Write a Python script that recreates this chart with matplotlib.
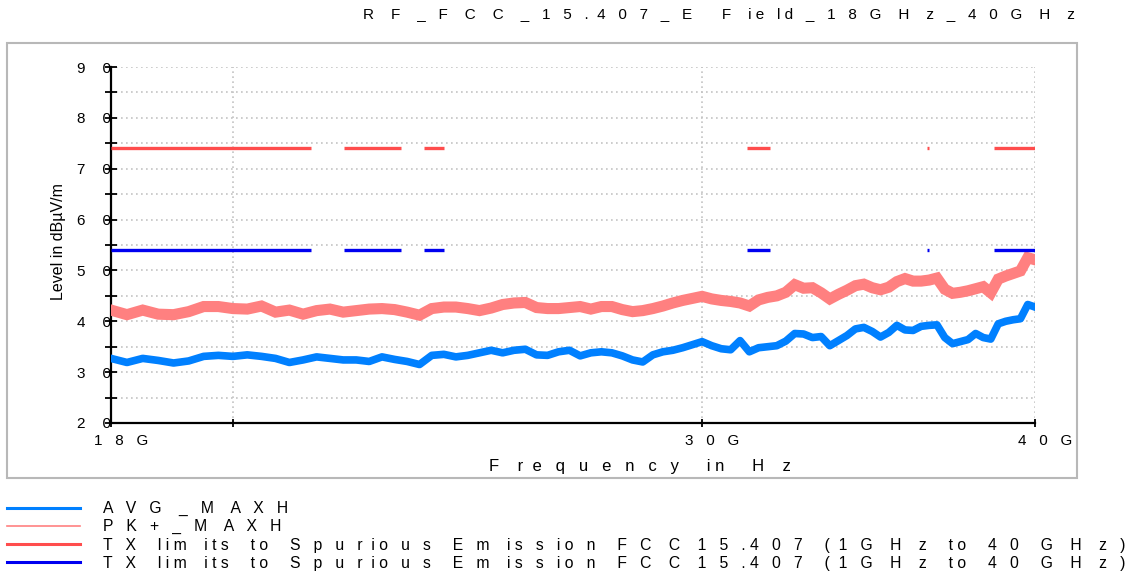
import numpy as np
import matplotlib
matplotlib.use("Agg")
import matplotlib.pyplot as plt
from matplotlib.lines import Line2D
from matplotlib.patches import Rectangle
from matplotlib.transforms import ScaledTranslation

plt.rcParams['font.family'] = ['Liberation Sans', 'DejaVu Sans']

# ---------------- data ----------------
title_text = "RF_FCC_15.407_E Field_18GHz_40GHz"
xlabel_text = "Frequency in Hz"
ylabel_text = "Level in dB\u00b5V/m"
series_labels = ["AVG_MAXH", "PK+_MAXH",
                 "TX limits to Spurious Emission FCC15.407 (1GHz to 40 GHz)",
                 "TX limits to Spurious Emission FCC15.407 (1GHz to 40 GHz)"]

freq_ghz = [18.00, 18.25, 18.50, 18.75, 19.00, 19.25, 19.50, 19.75, 20.00, 20.25,
            20.50, 20.75, 21.00, 21.25, 21.50, 21.75, 22.00, 22.25, 22.50, 22.75,
            23.00, 23.25, 23.50, 23.75, 24.00, 24.25, 24.50, 24.75, 25.00, 25.25,
            25.50, 25.75, 26.00, 26.25, 26.50, 26.75, 27.00, 27.25, 27.50, 27.75,
            28.00, 28.25, 28.50, 28.75, 29.00, 29.25, 29.50, 29.75, 30.00, 30.25,
            30.50, 30.75, 31.00, 31.25, 31.50, 31.75, 32.00, 32.25, 32.50, 32.75,
            33.00, 33.25, 33.50, 33.75, 34.00, 34.25, 34.50, 34.75, 35.00, 35.25,
            35.50, 35.75, 36.00, 36.25, 36.50, 36.75, 37.00, 37.25, 37.50, 37.75,
            38.00, 38.25, 38.50, 38.75, 39.00, 39.25, 39.50, 39.75, 40.00]

avg_dbuv = [32.7, 31.9, 32.7, 32.3, 31.8, 32.2, 33.1, 33.3, 33.1, 33.4,
            33.1, 32.7, 31.9, 32.4, 33.0, 32.7, 32.4, 32.4, 32.1, 33.0,
            32.5, 32.1, 31.5, 33.3, 33.5, 33.0, 33.3, 33.8, 34.3, 33.8,
            34.3, 34.5, 33.4, 33.3, 34.0, 34.3, 33.2, 33.8, 34.0, 33.8,
            33.2, 32.4, 32.0, 33.4, 34.0, 34.3, 34.8, 35.4, 36.0, 35.2,
            34.6, 34.4, 36.2, 34.0, 34.8, 35.0, 35.2, 36.1, 37.6, 37.5,
            36.8, 37.0, 35.2, 36.2, 37.2, 38.5, 38.8, 38.0, 36.9, 37.8,
            39.2, 38.3, 38.2, 39.0, 39.2, 39.3, 36.8, 35.6, 36.0, 36.4,
            37.6, 36.8, 36.5, 39.5, 40.0, 40.3, 40.5, 43.3, 42.8]

pk_dbuv = [42.2, 41.3, 42.2, 41.4, 41.3, 41.9, 42.9, 42.9, 42.5, 42.4,
           43.0, 41.8, 42.2, 41.4, 42.1, 42.4, 41.8, 42.1, 42.4, 42.5,
           42.3, 41.8, 41.2, 42.5, 42.8, 42.8, 42.5, 42.1, 42.6, 43.3,
           43.6, 43.7, 42.7, 42.5, 42.5, 42.7, 42.9, 42.4, 42.9, 42.9,
           42.3, 41.9, 42.1, 42.5, 43.0, 43.6, 44.1, 44.5, 44.9, 44.4,
           44.1, 43.9, 43.6, 43.0, 44.2, 44.7, 45.0, 45.7, 47.2, 46.5,
           46.6, 45.6, 44.4, 45.3, 46.1, 47.0, 47.3, 46.6, 46.2, 46.7,
           47.8, 48.4, 47.9, 47.9, 48.1, 48.5, 46.3, 45.5, 45.7, 46.0,
           46.4, 46.8, 45.6, 48.3, 48.9, 49.4, 49.9, 52.5, 52.1]

band_start_ghz = [18.0, 22.01, 23.6, 31.2, 36.43, 38.6]
band_stop_ghz = [21.4, 23.12, 24.0, 31.8, 36.5, 40.0]
pk_limit_dbuv = 74.0
avg_limit_dbuv = 54.0

x_ticks = [18, 20, 30, 40]
x_tick_labels = ["18G", "", "30G", "40G"]
y_major = [20, 30, 40, 50, 60, 70, 80, 90]
y_minor = [25, 35, 45, 55, 65, 75, 85]

# ---------------- styling helpers ----------------
ADV = {'A': 667, 'B': 667, 'C': 722, 'D': 722, 'E': 667, 'F': 611, 'G': 778, 'H': 722,
       'I': 278, 'K': 667, 'L': 556, 'M': 833, 'P': 667, 'R': 722, 'S': 667, 'T': 611,
       'V': 667, 'X': 667, 'z': 500, 'i': 222, 'l': 222, 'm': 833, 't': 278, 's': 500,
       'r': 333, 'c': 500, 'y': 500, '.': 278, '(': 333, ')': 333, ' ': 278,
       '+': 584, '_': 556, 'f': 278, 'j': 222}


def spread(s, k=1.6):
    out = []
    for ch in s:
        n = int(round(k * ADV.get(ch, 556) / 278.0))
        out.append(ch + ' ' * n)
    return ''.join(out).rstrip()


W, H = 1139, 575
fig = plt.figure(figsize=(W / 100, H / 100), dpi=100)

# outer frame
fig.patches.append(Rectangle((7 / W, 1 - 478 / H), 1070 / W, 435 / H,
                             transform=fig.transFigure, fill=False,
                             edgecolor='#b8b8b8', lw=1.5))

ax = fig.add_axes([111 / W, 1 - 423 / H, 924 / W, 356 / H])
ax.set_xscale('log')

c_avg = '#0080ff'
c_pk = '#ff8080'
c_lim_pk = '#ff4d4d'
c_lim_avg = '#0000f0'

ax.plot(freq_ghz, pk_dbuv, color=c_pk, lw=8, solid_joinstyle='miter', zorder=3)
ax.plot(freq_ghz, avg_dbuv, color=c_avg, lw=5.5, solid_joinstyle='round', zorder=4)
ax.hlines([pk_limit_dbuv] * len(band_start_ghz), band_start_ghz, band_stop_ghz,
          colors=c_lim_pk, lw=2.4, zorder=5)
ax.hlines([avg_limit_dbuv] * len(band_start_ghz), band_start_ghz, band_stop_ghz,
          colors=c_lim_avg, lw=2.4, zorder=5)

ax.set_xlim(18, 40)
ax.set_ylim(20, 90)

ax.xaxis.set_minor_locator(matplotlib.ticker.NullLocator())
ax.set_xticks(x_ticks)
ax.set_xticklabels([spread(t) for t in x_tick_labels])
ax.set_yticks(y_major)
ax.set_yticklabels([spread(str(v), 1.9) for v in y_major])
ax.set_yticks(y_minor, minor=True)

for s in ['top', 'right']:
    ax.spines[s].set_visible(False)
for s in ['left', 'bottom']:
    ax.spines[s].set_linewidth(1.6)
    ax.spines[s].set_color('black')

ax.tick_params(axis='y', which='both', direction='inout', length=8, width=1.3,
               labelsize=11, pad=-4, colors='black')
ax.tick_params(axis='x', which='major', direction='inout', length=6, width=1.3,
               labelsize=11, pad=5, colors='black')
for lab in ax.get_xticklabels():
    lab.set_ha('left')
    lab.set_transform(lab.get_transform() + ScaledTranslation(-17 / 100, 0, fig.dpi_scale_trans))

ax.grid(True, which='both', axis='y', color='#c4c4c4', lw=1.2, linestyle=(0, (1, 2)))
ax.grid(True, which='major', axis='x', color='#c4c4c4', lw=1.2, linestyle=(0, (1, 2)))
ax.set_axisbelow(True)

ax.set_xlabel(spread(xlabel_text), fontsize=12, va='center')
ax.xaxis.set_label_coords((640 - 111) / 924, (423 - 467) / 356)
ax.set_ylabel(ylabel_text, fontsize=11.5, va='center')
ax.yaxis.set_label_coords((58 - 111) / 924, (423 - 242) / 356)

fig.text(1075 / W, 1 - 14 / H, spread(title_text), ha='right', va='center', fontsize=11)

handles = [Line2D([], [], color=c_avg, lw=2.2),
           Line2D([], [], color=c_pk, lw=1.2),
           Line2D([], [], color=c_lim_pk, lw=2.2),
           Line2D([], [], color=c_lim_avg, lw=2.2)]
fs = 11.3
fs_px = fs * 100 / 72
fig.legend(handles, [spread(l, 1.45) for l in series_labels], loc='upper left',
           bbox_to_anchor=(7 / W, 1 - 501 / H), frameon=False, fontsize=fs,
           borderpad=0, borderaxespad=0, handlelength=73 / fs_px,
           handletextpad=23 / fs_px, labelspacing=0.2)

fig.savefig('out.png', dpi=100)
